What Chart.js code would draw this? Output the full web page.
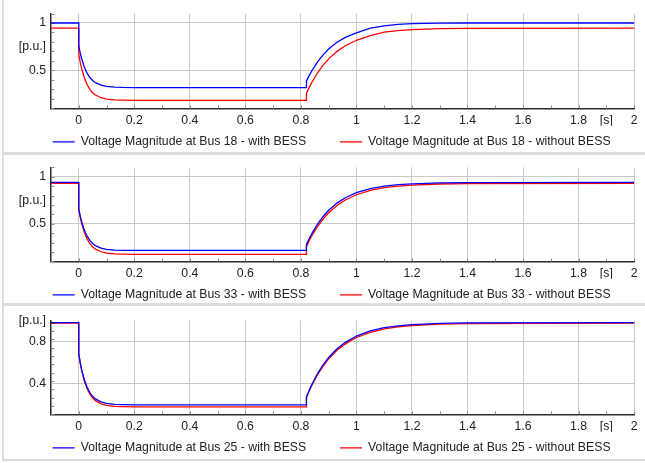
<!DOCTYPE html>
<html>
<head>
<meta charset="utf-8">
<script src="https://cdn.jsdelivr.net/npm/chart.js@4.4.1/dist/chart.umd.min.js"></script>
<style>
  body { margin: 0; background: #fff; }
  #wrap { position: relative; width: 645px; height: 463px; overflow: hidden; }
  canvas { position: absolute; }
  .sep { position: absolute; background: #dcdcdc; }
</style>
</head>
<body>
<div id="wrap">
  <div class="sep" style="left:2px;top:0;width:2px;height:461px"></div>
  <div class="sep" style="left:2px;top:152px;width:643px;height:3px"></div>
  <div class="sep" style="left:2px;top:303px;width:643px;height:3px"></div>
  <div class="sep" style="left:2px;top:459px;width:643px;height:2px"></div>
  <canvas id="c1" width="638" height="158" style="left:4px;top:0px"></canvas>
  <canvas id="c2" width="638" height="156" style="left:4px;top:155px"></canvas>
  <canvas id="c3" width="638" height="157" style="left:4px;top:307px"></canvas>
</div>
<script>
// time axis [s] (0 and 0.82 appear twice: the jumps at fault / clearing)
const time = [-0.1, 0, 0, 0.005, 0.01, 0.02, 0.03, 0.04, 0.05, 0.06, 0.08, 0.1, 0.13, 0.16, 0.2,
  0.82, 0.82, 0.83, 0.84, 0.86, 0.88, 0.9, 0.93, 0.96, 1.0, 1.05, 1.1, 1.15, 1.2, 1.3, 1.4, 2.0];

// Bus 18
const bus18With = [1.0, 1.0, 0.76, 0.688, 0.628, 0.536, 0.471, 0.426, 0.394, 0.371, 0.345, 0.332, 0.324, 0.321, 0.32,
  0.32, 0.39, 0.448, 0.50, 0.591, 0.665, 0.726, 0.797, 0.849, 0.895, 0.945, 0.97, 0.985, 0.993, 0.998, 1.0, 1.0];
const bus18Without = [0.945, 0.945, 0.67, 0.59, 0.525, 0.423, 0.351, 0.301, 0.266, 0.242, 0.213, 0.199, 0.19, 0.187, 0.185,
  0.185, 0.26, 0.322, 0.378, 0.476, 0.556, 0.622, 0.701, 0.760, 0.818, 0.868, 0.903, 0.920, 0.930, 0.940, 0.943, 0.945];

// Bus 33
const bus33With = [0.94, 0.94, 0.66, 0.585, 0.525, 0.433, 0.368, 0.323, 0.291, 0.268, 0.242, 0.229, 0.221, 0.218, 0.217,
  0.217, 0.28, 0.343, 0.399, 0.498, 0.578, 0.644, 0.720, 0.777, 0.831, 0.874, 0.900, 0.916, 0.925, 0.935, 0.938, 0.94];
const bus33Without = [0.93, 0.93, 0.655, 0.576, 0.511, 0.410, 0.340, 0.290, 0.256, 0.231, 0.203, 0.188, 0.180, 0.177, 0.175,
  0.175, 0.26, 0.321, 0.377, 0.472, 0.551, 0.617, 0.695, 0.753, 0.809, 0.855, 0.884, 0.901, 0.912, 0.923, 0.927, 0.93];

// Bus 25
const bus25With = [0.98, 0.98, 0.682, 0.602, 0.535, 0.432, 0.360, 0.310, 0.274, 0.249, 0.220, 0.206, 0.197, 0.194, 0.192,
  0.192, 0.265, 0.330, 0.389, 0.492, 0.576, 0.646, 0.729, 0.791, 0.851, 0.900, 0.931, 0.949, 0.961, 0.973, 0.977, 0.98];
const bus25Without = [0.975, 0.975, 0.678, 0.595, 0.527, 0.420, 0.346, 0.294, 0.258, 0.232, 0.202, 0.187, 0.178, 0.175, 0.173,
  0.173, 0.262, 0.327, 0.383, 0.482, 0.563, 0.632, 0.714, 0.776, 0.837, 0.887, 0.920, 0.939, 0.952, 0.966, 0.971, 0.975];

// tick labels
const xTickVals = [0, 0.2, 0.4, 0.6, 0.8, 1, 1.2, 1.4, 1.6, 1.8, 1.9, 2];
const xTickText = ['0', '0.2', '0.4', '0.6', '0.8', '1', '1.2', '1.4', '1.6', '1.8', '[s]', '2'];
const yTickVals12 = [0.5, 0.75, 1];
const yTickText12 = ['0.5', '[p.u.]', '1'];
const yTickVals3 = [0.4, 0.8, 1];
const yTickText3 = ['0.4', '0.8', '[p.u.]'];

Chart.defaults.font.family = 'Arial, "Liberation Sans", sans-serif';
Chart.defaults.font.size = 12.25;
Chart.defaults.color = '#222';

const GRID = '#c8c8c8';

// small inward ticks along both axes
const minorTicks = {
  id: 'minorTicks',
  beforeDatasetsDraw(chart, args, opts) {
    const { ctx, chartArea, scales: { x, y } } = chart;
    ctx.save();
    ctx.strokeStyle = '#8a8a8a';
    ctx.lineWidth = 1;
    ctx.beginPath();
    for (let v = x.min; v <= x.max + 1e-9; v += opts.xStep) {
      const px = Math.round(x.getPixelForValue(v)) + 0.5;
      ctx.moveTo(px, chartArea.bottom);
      ctx.lineTo(px, chartArea.bottom - 3);
    }
    for (let v = y.min; v <= y.max + 1e-9; v += opts.yStep) {
      const py = Math.round(y.getPixelForValue(v)) + 0.5;
      ctx.moveTo(chartArea.left, py);
      ctx.lineTo(chartArea.left + 3.5, py);
    }
    ctx.stroke();
    ctx.restore();
  }
};

// nudge the legend row to the right so it sits under the plot like the original
const legendShift = {
  id: 'legendShift',
  afterLayout(chart, args, opts) {
    chart.legend.left += opts.dx;
    chart.legend.right += opts.dx;
  }
};

function makeChart(id, bus, withVals, withoutVals, yMin, yMax, yVals, yText, yStep, padTop) {
  const toPts = (vals) => time.map((t, i) => ({ x: t, y: vals[i] }));
  return new Chart(document.getElementById(id), {
    type: 'line',
    data: {
      datasets: [
        {
          label: 'Voltage Magnitude at Bus ' + bus + ' - with BESS',
          data: toPts(withVals),
          borderColor: '#0000ff',
          backgroundColor: '#0000ff',
          borderWidth: 1.3,
          pointRadius: 0,
          tension: 0
        },
        {
          label: 'Voltage Magnitude at Bus ' + bus + ' - without BESS',
          data: toPts(withoutVals),
          borderColor: '#ff0000',
          backgroundColor: '#ff0000',
          borderWidth: 1.3,
          pointRadius: 0,
          tension: 0
        }
      ]
    },
    options: {
      responsive: false,
      animation: false,
      devicePixelRatio: 1,
      layout: { padding: { left: 7, right: 7, top: padTop, bottom: 0 } },
      scales: {
        x: {
          type: 'linear',
          min: -0.1,
          max: 2,
          afterBuildTicks: (s) => { s.ticks = xTickVals.map(v => ({ value: v })); },
          afterFit: (s) => { s.height = 17.3; },
          ticks: {
            autoSkip: false,
            maxRotation: 0,
            padding: 4.5,
            callback: (v, i) => xTickText[i]
          },
          grid: {
            drawTicks: false,
            color: (c) => (c.tick && c.tick.value === 1.9 ? 'rgba(0,0,0,0)' : GRID)
          },
          border: { color: '#2a2a2a', width: 1.5 }
        },
        y: {
          min: yMin,
          max: yMax,
          afterBuildTicks: (s) => { s.ticks = yVals.map(v => ({ value: v })); },
          afterFit: (s) => { s.width = 40; },
          ticks: {
            autoSkip: false,
            padding: 5,
            callback: (v, i) => yText[i]
          },
          grid: {
            drawTicks: false,
            color: (c) => (c.tick && yText[c.index] === '[p.u.]' ? 'rgba(0,0,0,0)' : GRID)
          },
          border: { color: '#2a2a2a', width: 1.5 }
        }
      },
      plugins: {
        legend: {
          position: 'bottom',
          labels: {
            usePointStyle: true,
            pointStyle: 'line',
            pointStyleWidth: 22,
            padding: 10,
            color: '#222',
            generateLabels(chart) {
              const items = Chart.defaults.plugins.legend.labels.generateLabels(chart);
              items[0].text += '       ';
              return items;
            }
          }
        },
        tooltip: { enabled: false },
        minorTicks: { xStep: 0.1, yStep: yStep },
        legendShift: { dx: 8.6 }
      }
    },
    plugins: [minorTicks, legendShift]
  });
}

makeChart('c1', 18, bus18With, bus18Without, 0.1, 1.1, yTickVals12, yTickText12, 0.1, 13.5);
makeChart('c2', 33, bus33With, bus33Without, 0.1, 1.1, yTickVals12, yTickText12, 0.1, 12);
makeChart('c3', 25, bus25With, bus25Without, 0.1, 1.0, yTickVals3, yTickText3, 0.08, 13.5);
</script>
</body>
</html>
